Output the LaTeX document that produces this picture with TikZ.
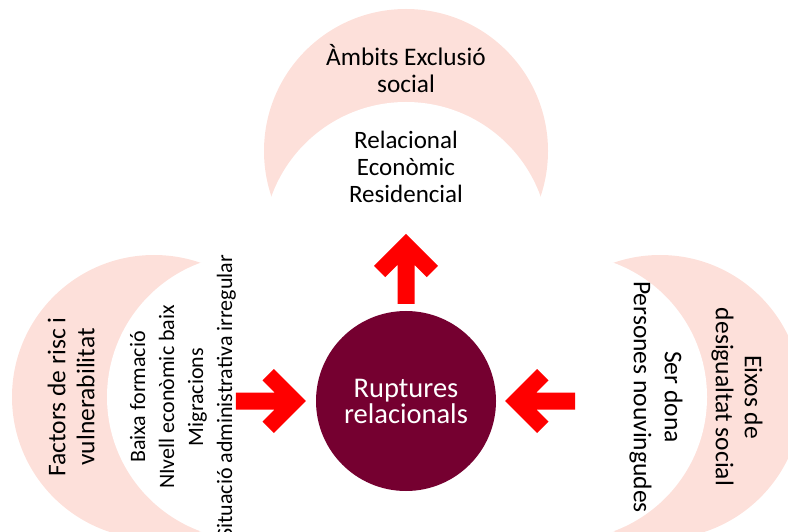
\documentclass[tikz,border=0pt]{standalone}
\usepackage{fontspec}
\setmainfont{Carlito}
\usetikzlibrary{positioning}
\definecolor{crescentpink}{HTML}{FDE0DA}
\definecolor{hubred}{HTML}{750030}
\definecolor{arrowred}{HTML}{FF0000}
\begin{document}
\begin{tikzpicture}[x=1bp, y=-1bp,
    crescent/.style={circle, fill=crescentpink, minimum size=284bp, inner sep=0pt},
    hollow/.style={circle, fill=white, minimum size=286bp, inner sep=0pt},
    title/.style={align=center, font=\fontsize{25.5bp}{29bp}\selectfont},
    items/.style={align=center, font=\fontsize{25bp}{27bp}\selectfont},
    hub/.style={circle, fill=hubred, text=white, minimum size=180bp,
    inner sep=0pt, align=center, font=\fontsize{28.5bp}{26bp}\selectfont},
    bigarrow/.pic={\fill[arrowred] (0,0) -- (-32,-32) -- (-43.3,-20.7)
        -- (-31.1,-8.5) -- (-70,-8.5) -- (-70,8.5) -- (-31.1,8.5)
        -- (-43.3,20.7) -- (-32,32) -- cycle;}]
    \useasboundingbox (0,0) rectangle (788,532);
    \clip (0,0) rectangle (788,532);
    \node[crescent] (ambitsout) at (406,151) {};
    \node[crescent] (factorsout) at (154,397) {};
    \node[crescent] (eixosout) at (660,397) {};
    \node[hollow] (ambitsin) at (406,245) {};
    \node[hollow] (factorsin) at (250,397) {};
    \node[hollow] (eixosin) at (564,397) {};
    \node[title, font=\fontsize{25.3bp}{27bp}\selectfont] (ambits) at (406,69)
        {Àmbits Exclusió\\social};
    \node[items] (ambitslist) at (406,167) {Relacional\\Econòmic\\Residencial};
    \node[title, rotate=90] (factors) at (71,397)
        {Factors de risc i\\vulnerabilitat};
    \node[items, rotate=90, font=\fontsize{22bp}{29bp}\selectfont] (factorslist)
        at (183,397) {Baixa formació\\NIvell econòmic baix\\Migracions\\Situació administrativa irregular};
    \node[title, rotate=-90] (eixos) at (737,397) {Eixos de\\desigualtat social};
    \node[items, rotate=-90, font=\fontsize{25.5bp}{31bp}\selectfont] (eixoslist)
        at (656,397) {Ser dona\\Persones nouvingudes};
    \node[hub] (hub) at (406,401) {Ruptures\\relacionals};
    \coordinate[above=77bp of hub] (uptip);
    \coordinate[left=10bp of hub] (lefttip);
    \coordinate[right=9bp of hub] (righttip);
    \pic[rotate=90] at (uptip) {bigarrow};
    \pic at (lefttip) {bigarrow};
    \pic[rotate=180] at (righttip) {bigarrow};
\end{tikzpicture}
\end{document}
